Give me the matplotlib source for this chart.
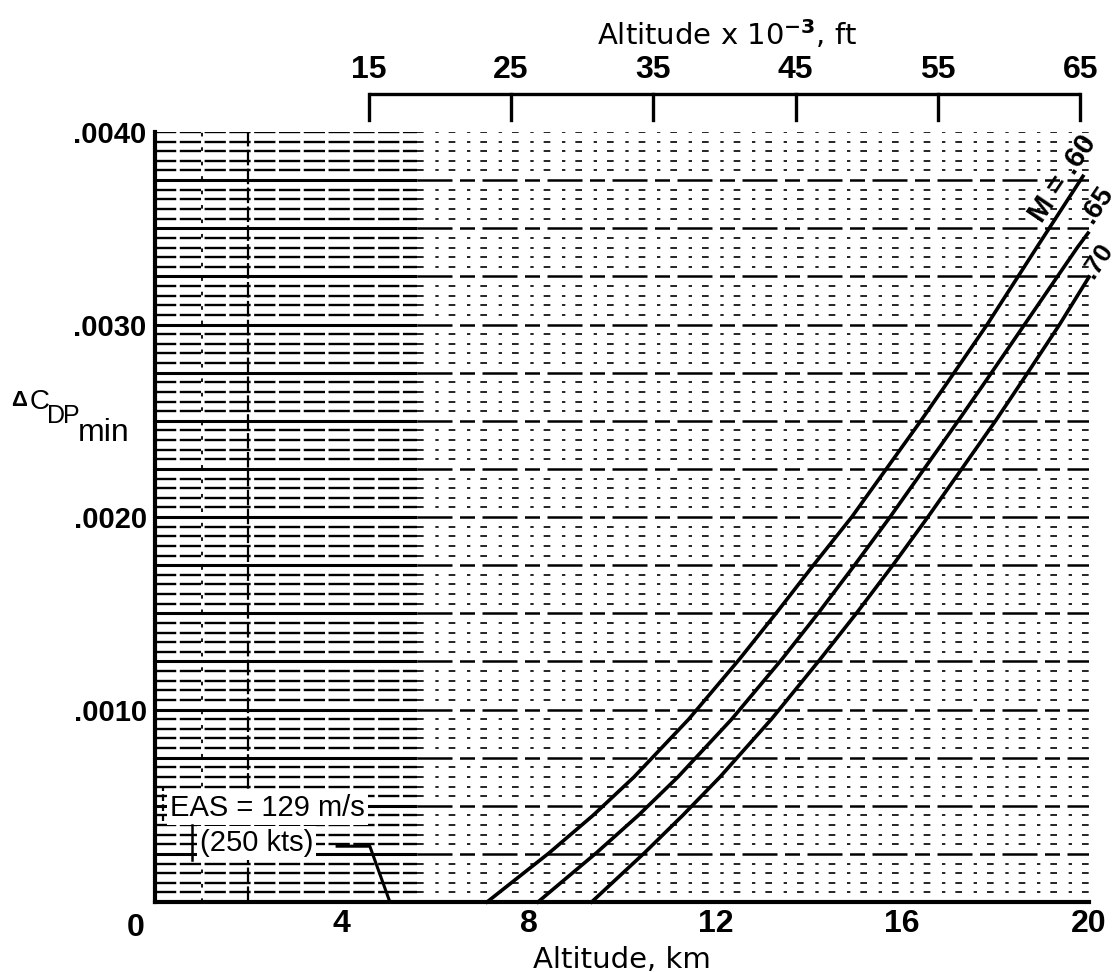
import numpy as np
import matplotlib.pyplot as plt
import matplotlib.transforms as mtransforms

plt.rcParams['font.family'] = ['Liberation Sans', 'DejaVu Sans']
plt.rcParams['mathtext.fontset'] = 'custom'
plt.rcParams['mathtext.rm'] = 'DejaVu Sans'

# Altitude (km) vs. minimum profile drag increment, one line per Mach number
dcd_m60 = [0.0, 0.000255, 0.00045, 0.00065, 0.00095, 0.00126, 0.0015, 0.00175,
           0.0020, 0.0025, 0.00271, 0.0030, 0.0034, 0.00377]
alt_m60 = [7.11, 8.44, 9.38, 10.26, 11.43, 12.51, 13.3, 14.1,
           14.92, 16.4, 17.0, 17.82, 18.88, 19.87]
dcd_m65 = [0.0, 0.000255, 0.00045, 0.00065, 0.00095, 0.00126, 0.0015, 0.00175,
           0.0020, 0.0025, 0.00271, 0.0030, 0.0034, 0.003475]
alt_m65 = [8.2, 9.45, 10.35, 11.2, 12.35, 13.42, 14.2, 14.98,
           15.74, 17.2, 17.8, 18.62, 19.75, 19.98]
dcd_m70 = [0.0, 0.000255, 0.00045, 0.00065, 0.00095, 0.00126, 0.0015, 0.00175,
           0.0020, 0.0025, 0.00271, 0.0030, 0.003247]
alt_m70 = [9.35, 10.48, 11.3, 12.1, 13.2, 14.24, 15.02, 15.8,
           16.55, 18.0, 18.58, 19.37, 20.0]

# constant EAS (250 kts) reference mark
eas_alt = [3.9, 4.6, 5.03]
eas_dcd = [0.00029, 0.00029, 0.0]

x_ticks = [0, 4, 8, 12, 16, 20]
y_ticks = [0.001, 0.002, 0.003, 0.004]
y_labels = ['.0010', '.0020', '.0030', '.0040']
ft_ticks = [15, 25, 35, 45, 55, 65]  # thousands of feet

narrow = ['Liberation Sans Narrow', 'Liberation Sans']

fig = plt.figure(figsize=(11.19, 9.72), dpi=100)
ax = fig.add_axes([0.1385, 0.072, 0.9732 - 0.1385, 0.8642 - 0.072])
ax.set_xlim(0, 20)
ax.set_ylim(0, 0.004)

# chart-paper grid: fine lines every .00005, heavier every .00025
for i in range(1, 81):
    y = i * 0.00005
    major = i % 5 == 0 and i < 80
    if major:
        ax.plot([0, 5.6], [y, y], color='black', lw=2.2, solid_capstyle='butt', zorder=1)
        ax.plot([5.6, 20], [y, y], color='black', lw=1.8, ls=(0, (14, 3, 6, 3)), zorder=1)
    else:
        ax.plot([0, 5.6], [y, y], color='black', lw=1.7, ls=(0, (9, 1.5)), zorder=1)
        ax.plot([5.6, 20], [y, y], color='black', lw=1.2, ls=(0, (4, 7, 2, 6)), zorder=1)
ax.plot([2, 2], [0, 0.004], color='black', lw=1.6, ls=(0, (7, 1.5)), zorder=1)
ax.plot([1, 1], [0, 0.004], color='black', lw=1.3, ls=(0, (2, 6)), zorder=1)

# Mach lines
for xs, ys in [(alt_m60, dcd_m60), (alt_m65, dcd_m65), (alt_m70, dcd_m70)]:
    ax.plot(xs, ys, color='black', lw=2.6, zorder=3, clip_on=False,
            solid_joinstyle='round')
ax.plot(eas_alt, eas_dcd, color='black', lw=2.2, zorder=3)

ax.text(19.45, 0.00376, 'M = .60', rotation=56, ha='center', va='center',
        fontsize=21, fontweight='bold', family=narrow, clip_on=False)
ax.text(20.17, 0.00362, '.65', rotation=56, ha='center', va='center',
        fontsize=20, fontweight='bold', family=narrow, clip_on=False)
ax.text(20.18, 0.00333, '.70', rotation=56, ha='center', va='center',
        fontsize=19, fontweight='bold', family=narrow, clip_on=False)

# EAS note
ax.text(0.32, 0.00049, 'EAS = 129 m/s', ha='left', va='center', fontsize=21, zorder=4,
        bbox=dict(facecolor='white', edgecolor='none', pad=2))
ax.plot([0.17, 0.17], [0.00042, 0.0006], color='black', lw=1.6, ls=(0, (3, 1.5)), zorder=5)
ax.text(0.96, 0.000306, '(250 kts)', ha='left', va='center', fontsize=21, zorder=4,
        bbox=dict(facecolor='white', edgecolor='none', pad=2))
ax.plot([0.8, 0.8], [0.00022, 0.0004], color='black', lw=1.8, zorder=5)

# axes frame: left and bottom only
for side in ['top', 'right']:
    ax.spines[side].set_visible(False)
for side in ['left', 'bottom']:
    ax.spines[side].set_linewidth(3)
    ax.spines[side].set_zorder(6)

ax.set_yticks(y_ticks)
ax.set_yticklabels(y_labels, fontsize=21, fontweight='bold')
ax.set_xticks(x_ticks)
ax.set_xticklabels([str(v) for v in x_ticks], fontsize=23, fontweight='bold', family=narrow)
ax.tick_params(axis='both', length=0)
ax.tick_params(axis='y', pad=6)
ax.tick_params(axis='x', pad=5)
zero_lbl = ax.get_xticklabels()[0]
zero_lbl.set_transform(zero_lbl.get_transform() +
                       mtransforms.ScaledTranslation(-0.19, -0.04, fig.dpi_scale_trans))
ax.set_xlabel('Altitude, km', fontsize=21, labelpad=2, family=['DejaVu Sans'])

# altitude scale in feet above the plot
ft_km = [f * 0.3048 for f in ft_ticks]
trans = ax.get_xaxis_transform()
ax.plot([ft_km[0], ft_km[-1]], [1.049, 1.049], color='black', lw=2.4,
        transform=trans, clip_on=False, solid_capstyle='butt')
for f, k in zip(ft_ticks, ft_km):
    ax.plot([k, k], [1.049, 1.0156], color='black', lw=2.4, transform=trans, clip_on=False)
    ax.text(k, 1.0805, str(f), transform=trans, ha='center', va='center', fontsize=23,
            fontweight='bold', family=narrow)
fig.text(727 / 1119, 1 - 35 / 972, r'Altitude x 10$^{\mathbf{-3}}$, ft',
         ha='center', va='center', fontsize=21, family=['DejaVu Sans'])


# y-axis label built from pieces
def fpx(x, y):
    return x / 1119, 1 - y / 972


fig.text(*fpx(11, 406), '\u0394', fontsize=16, va='baseline', fontweight='bold')
fig.text(*fpx(30, 409), 'C', fontsize=20, va='baseline', family=narrow)
fig.text(*fpx(47, 423), 'D', fontsize=18, va='baseline', family=narrow)
fig.text(*fpx(63, 423), 'P', fontsize=18, va='baseline', family=narrow)
fig.text(*fpx(78, 441), 'min', fontsize=23, va='baseline', family=narrow)

fig.savefig('out.png', dpi=100)
